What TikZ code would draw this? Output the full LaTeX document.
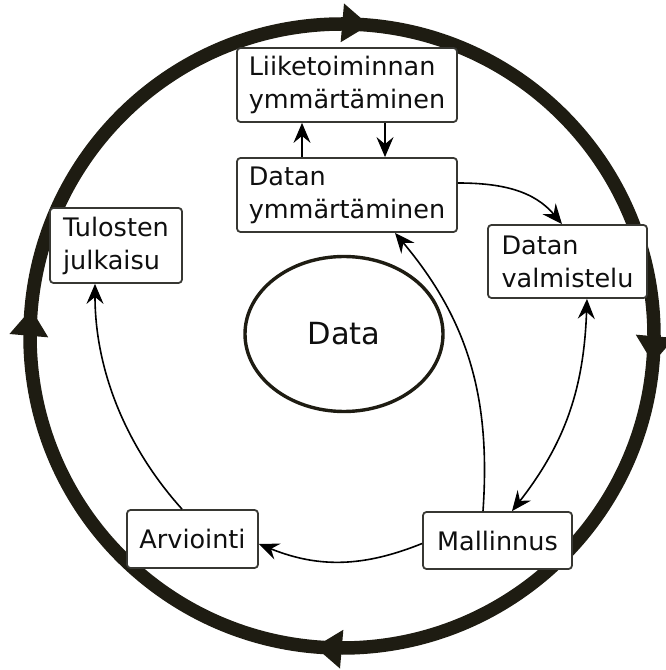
\documentclass[tikz,border=0pt]{standalone}
\usepackage{fontspec}
\setmainfont{DejaVu Sans}
\usetikzlibrary{arrows.meta,decorations.markings,shapes.geometric}
\definecolor{ringcol}{RGB}{30,28,18}
\definecolor{boxcol}{RGB}{55,55,50}
\definecolor{txtcol}{RGB}{15,15,15}
\begin{document}
\begin{tikzpicture}[x=1pt,y=1pt,
  box/.style={draw=boxcol, line width=1.8pt, rounded corners=3.5pt, fill=white, align=left,
    text=txtcol, font=\fontsize{25.5}{33}\selectfont, inner sep=0pt},
  tip/.style={Stealth[length=20pt,width=17pt,inset=7pt]},
  conn/.style={line width=1.6pt, -{Stealth[length=20pt,width=17pt,inset=7pt]}},
  biconn/.style={line width=1.6pt, {Stealth[length=20pt,width=17pt,inset=7pt]}-{Stealth[length=20pt,width=17pt,inset=7pt]}},
  ring/.style={draw=ringcol, line width=13.5pt,
    decoration={markings, mark=between positions 0.0139 and 1 step 0.25 with {\arrow[ringcol]{Triangle[length=27pt,width=37pt]}}},
    postaction={decorate}}
]
\useasboundingbox (0,0) rectangle (665,670);
\coordinate (O) at (342,334);
\draw[ring] ([shift={(90:312)}]O) arc[start angle=90, end angle=-270, radius=312];

\node[ellipse, draw=ringcol, line width=3.4pt, minimum width=198pt, minimum height=155pt,
  text=txtcol, font=\fontsize{30.5}{36}\selectfont] (data) at (344,336) {Data};

\node[box, minimum width=220pt, minimum height=74pt] (L) at (347,585) {Liiketoiminnan\\ymmärtäminen};
\node[box, minimum width=220pt, minimum height=74pt] (DY) at (347,475) {Datan\\ymmärtäminen};
\node[box, minimum width=132pt, minimum height=75pt] (T) at (116,424.5) {Tulosten\\julkaisu};
\node[box, minimum width=159pt, minimum height=73pt] (DV) at (567.5,408.5) {Datan\\valmistelu};
\node[box, minimum width=149pt, minimum height=57pt] (M) at (497.5,129.5) {Mallinnus};
\node[box, minimum width=131pt, minimum height=58pt] (A) at (192.5,131) {Arviointi};

\draw[conn] ([xshift=-45pt]DY.north) -- ([xshift=-45pt]L.south);
\draw[conn] ([xshift=38pt]L.south) -- ([xshift=38pt]DY.north);
\draw[conn] ([yshift=12pt]DY.east) to[out=0,in=130] ([xshift=-5.5pt]DV.north);
\draw[biconn] ([xshift=19.5pt]DV.south) to[out=-92,in=52] ([xshift=14.5pt]M.north);
\draw[conn] ([xshift=-14.5pt]M.north) to[out=86,in=-50] ([xshift=48pt]DY.south);
\draw[conn] ([yshift=-3pt]M.west) to[out=202,in=-22] ([yshift=-5pt]A.east);
\draw[conn] ([xshift=-10.5pt]A.north) to[out=132,in=-90,looseness=0.9] ([xshift=-21pt]T.south);
\end{tikzpicture}
\end{document}
